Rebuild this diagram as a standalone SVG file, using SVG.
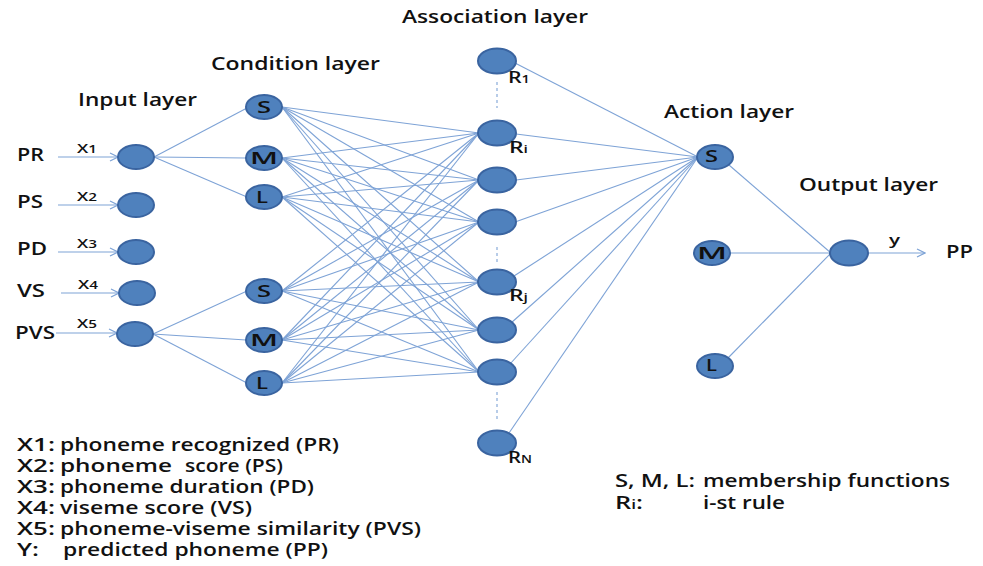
<svg xmlns="http://www.w3.org/2000/svg" width="983" height="566" viewBox="0 0 983 566">
<style>
.n{fill:#4f81bd;stroke:#3a64a0;stroke-width:2}
.c line{stroke:#7ea3d6;stroke-width:1.1}
.t{font-family:"Open Sans","Liberation Sans",sans-serif;fill:#111;font-weight:600}
.h{font-size:17.5px}
.lb{font-size:17.5px}
.nl{font-size:16px}
.d{stroke:#7ea3d6;stroke-width:1.3;stroke-dasharray:3,3}
</style>
<defs>
<marker id="a" markerWidth="10" markerHeight="10" refX="9" refY="5" orient="auto" markerUnits="userSpaceOnUse">
<path d="M1,1 L9,5 L1,9" fill="none" stroke="#7ea3d6" stroke-width="1.2"/>
</marker>
</defs>
<rect width="983" height="566" fill="#fff"/>
<g id="titles" class="t h">
<text x="402" y="23" textLength="186" lengthAdjust="spacingAndGlyphs">Association layer</text>
<text x="211" y="70" textLength="169" lengthAdjust="spacingAndGlyphs">Condition layer</text>
<text x="78" y="106" textLength="119" lengthAdjust="spacingAndGlyphs">Input layer</text>
<text x="664" y="118" textLength="130" lengthAdjust="spacingAndGlyphs">Action layer</text>
<text x="799" y="191" textLength="139" lengthAdjust="spacingAndGlyphs">Output layer</text>
</g>
<g id="connectors" class="c">
<line x1="58" y1="157" x2="118" y2="157" marker-end="url(#a)"/>
<line x1="58" y1="205" x2="118" y2="205" marker-end="url(#a)"/>
<line x1="58" y1="252" x2="118" y2="252" marker-end="url(#a)"/>
<line x1="61" y1="293" x2="119" y2="293" marker-end="url(#a)"/>
<line x1="56" y1="333" x2="117" y2="333" marker-end="url(#a)"/>
<line x1="154" y1="157" x2="247" y2="108"/>
<line x1="154" y1="157" x2="246" y2="158"/>
<line x1="154" y1="157" x2="247" y2="197"/>
<line x1="153" y1="334" x2="247" y2="291"/>
<line x1="153" y1="334" x2="246" y2="340"/>
<line x1="153" y1="334" x2="247" y2="383"/>
<line x1="282" y1="107" x2="479" y2="133"/><line x1="282" y1="107" x2="479" y2="180"/><line x1="282" y1="107" x2="479" y2="222"/><line x1="282" y1="107" x2="479" y2="282"/><line x1="282" y1="107" x2="479" y2="330"/><line x1="282" y1="107" x2="479" y2="372"/>
<line x1="282" y1="158" x2="479" y2="133"/><line x1="282" y1="158" x2="479" y2="180"/><line x1="282" y1="158" x2="479" y2="222"/><line x1="282" y1="158" x2="479" y2="282"/><line x1="282" y1="158" x2="479" y2="330"/><line x1="282" y1="158" x2="479" y2="372"/>
<line x1="282" y1="197" x2="479" y2="133"/><line x1="282" y1="197" x2="479" y2="180"/><line x1="282" y1="197" x2="479" y2="222"/><line x1="282" y1="197" x2="479" y2="282"/><line x1="282" y1="197" x2="479" y2="330"/><line x1="282" y1="197" x2="479" y2="372"/>
<line x1="282" y1="291" x2="479" y2="133"/><line x1="282" y1="291" x2="479" y2="180"/><line x1="282" y1="291" x2="479" y2="222"/><line x1="282" y1="291" x2="479" y2="282"/><line x1="282" y1="291" x2="479" y2="330"/><line x1="282" y1="291" x2="479" y2="372"/>
<line x1="282" y1="340" x2="479" y2="133"/><line x1="282" y1="340" x2="479" y2="180"/><line x1="282" y1="340" x2="479" y2="222"/><line x1="282" y1="340" x2="479" y2="282"/><line x1="282" y1="340" x2="479" y2="330"/><line x1="282" y1="340" x2="479" y2="372"/>
<line x1="282" y1="383" x2="479" y2="133"/><line x1="282" y1="383" x2="479" y2="180"/><line x1="282" y1="383" x2="479" y2="222"/><line x1="282" y1="383" x2="479" y2="282"/><line x1="282" y1="383" x2="479" y2="330"/><line x1="282" y1="383" x2="479" y2="372"/>
<line x1="515" y1="63" x2="698" y2="157"/>
<line x1="516" y1="134" x2="698" y2="157"/>
<line x1="516" y1="180" x2="698" y2="157"/>
<line x1="515" y1="222" x2="698" y2="157"/>
<line x1="514" y1="276" x2="698" y2="157"/>
<line x1="511" y1="323" x2="698" y2="157"/>
<line x1="510" y1="364" x2="698" y2="157"/>
<line x1="509" y1="433" x2="698" y2="157"/>
<line x1="729" y1="165" x2="831" y2="253"/>
<line x1="730" y1="253" x2="830" y2="253"/>
<line x1="728" y1="358" x2="831" y2="253"/>
<line x1="868" y1="253" x2="925" y2="253" marker-end="url(#a)"/>
<line class="d" x1="497" y1="82" x2="497" y2="108"/>
<line class="d" x1="497" y1="247" x2="497" y2="265"/>
<line class="d" x1="497" y1="392" x2="497" y2="422"/>
</g>
<g id="input-labels" class="t lb">
<text x="17" y="161" textLength="27" lengthAdjust="spacingAndGlyphs">PR</text>
<text x="17" y="208" textLength="26" lengthAdjust="spacingAndGlyphs">PS</text>
<text x="17" y="255" textLength="30" lengthAdjust="spacingAndGlyphs">PD</text>
<text x="17" y="297" textLength="28" lengthAdjust="spacingAndGlyphs">VS</text>
<text x="15" y="339" textLength="40" lengthAdjust="spacingAndGlyphs">PVS</text>
<text x="77" y="153" font-size="13" textLength="20" lengthAdjust="spacingAndGlyphs">X<tspan font-size="11">1</tspan></text>
<text x="77" y="201" font-size="13" textLength="20" lengthAdjust="spacingAndGlyphs">X<tspan font-size="11">2</tspan></text>
<text x="77" y="248" font-size="13" textLength="20" lengthAdjust="spacingAndGlyphs">X<tspan font-size="11">3</tspan></text>
<text x="78" y="289" font-size="13" textLength="20" lengthAdjust="spacingAndGlyphs">X<tspan font-size="11">4</tspan></text>
<text x="77" y="328" font-size="13" textLength="20" lengthAdjust="spacingAndGlyphs">X<tspan font-size="11">5</tspan></text>
</g>
<g id="in1"><ellipse class="n" cx="136" cy="157" rx="18" ry="12"/></g>
<g id="in2"><ellipse class="n" cx="136" cy="205" rx="18" ry="12"/></g>
<g id="in3"><ellipse class="n" cx="136" cy="252" rx="18" ry="12"/></g>
<g id="in4"><ellipse class="n" cx="137" cy="293" rx="18" ry="12"/></g>
<g id="in5"><ellipse class="n" cx="135" cy="334" rx="18" ry="12"/></g>
<g id="c1"><ellipse class="n" cx="264" cy="107" rx="18" ry="12"/><text class="t nl" x="257" y="113" textLength="14" lengthAdjust="spacingAndGlyphs">S</text></g>
<g id="c2"><ellipse class="n" cx="264" cy="158" rx="18" ry="12"/><text class="t nl" x="250" y="164" textLength="28" lengthAdjust="spacingAndGlyphs">M</text></g>
<g id="c3"><ellipse class="n" cx="264" cy="197" rx="18" ry="12"/><text class="t nl" x="256" y="203" textLength="12" lengthAdjust="spacingAndGlyphs">L</text></g>
<g id="c4"><ellipse class="n" cx="264" cy="291" rx="18" ry="12"/><text class="t nl" x="257" y="297" textLength="14" lengthAdjust="spacingAndGlyphs">S</text></g>
<g id="c5"><ellipse class="n" cx="264" cy="340" rx="18" ry="12"/><text class="t nl" x="250" y="346" textLength="28" lengthAdjust="spacingAndGlyphs">M</text></g>
<g id="c6"><ellipse class="n" cx="264" cy="383" rx="18" ry="12"/><text class="t nl" x="256" y="389" textLength="12" lengthAdjust="spacingAndGlyphs">L</text></g>
<g id="r1"><ellipse class="n" cx="497" cy="61" rx="19" ry="12.5"/><text class="t" x="508" y="83" font-size="16" textLength="22" lengthAdjust="spacingAndGlyphs">R<tspan font-size="11">1</tspan></text></g>
<g id="ri"><ellipse class="n" cx="497" cy="133" rx="19" ry="12.5"/><text class="t" x="509" y="153" font-size="16" textLength="19" lengthAdjust="spacingAndGlyphs">R<tspan font-size="11">i</tspan></text></g>
<g id="r3"><ellipse class="n" cx="497" cy="180" rx="19" ry="12.5"/></g>
<g id="r4"><ellipse class="n" cx="497" cy="222" rx="19" ry="12.5"/></g>
<g id="rj"><ellipse class="n" cx="497" cy="282" rx="19" ry="12.5"/><text class="t" x="509" y="301" font-size="16" textLength="19" lengthAdjust="spacingAndGlyphs">R<tspan font-size="11">j</tspan></text></g>
<g id="r6"><ellipse class="n" cx="497" cy="330" rx="19" ry="12.5"/></g>
<g id="r7"><ellipse class="n" cx="497" cy="372" rx="19" ry="12.5"/></g>
<g id="rn"><ellipse class="n" cx="497" cy="443" rx="19" ry="12.5"/><text class="t" x="508" y="463" font-size="16" textLength="24" lengthAdjust="spacingAndGlyphs">R<tspan font-size="11">N</tspan></text></g>
<g id="a1"><ellipse class="n" cx="715" cy="157" rx="18" ry="12"/><text class="t nl" x="705" y="162" textLength="13" lengthAdjust="spacingAndGlyphs">S</text></g>
<g id="a2"><ellipse class="n" cx="712" cy="253" rx="18" ry="12"/><text class="t nl" x="697" y="259" textLength="30" lengthAdjust="spacingAndGlyphs">M</text></g>
<g id="a3"><ellipse class="n" cx="715" cy="366" rx="18" ry="12"/><text class="t nl" x="706" y="371" textLength="11" lengthAdjust="spacingAndGlyphs">L</text></g>
<g id="out"><ellipse class="n" cx="849" cy="253" rx="19" ry="12.5"/></g>
<g id="out-labels" class="t">
<text x="889" y="245" font-size="15" textLength="11" lengthAdjust="spacingAndGlyphs">y</text>
<text x="946" y="258" font-size="17.5" textLength="27" lengthAdjust="spacingAndGlyphs">PP</text>
</g>
<g id="legend" class="t" font-size="17.5">
<text x="17" y="451" textLength="38" lengthAdjust="spacingAndGlyphs">X1:</text>
<text x="60" y="451" textLength="279" lengthAdjust="spacingAndGlyphs">phoneme recognized (PR)</text>
<text x="17" y="472" textLength="38" lengthAdjust="spacingAndGlyphs">X2:</text>
<text x="60" y="472" textLength="112" lengthAdjust="spacingAndGlyphs">phoneme</text>
<text x="185" y="472" textLength="98" lengthAdjust="spacingAndGlyphs">score (PS)</text>
<text x="17" y="493" textLength="38" lengthAdjust="spacingAndGlyphs">X3:</text>
<text x="60" y="493" textLength="254" lengthAdjust="spacingAndGlyphs">phoneme duration (PD)</text>
<text x="17" y="514" textLength="38" lengthAdjust="spacingAndGlyphs">X4:</text>
<text x="60" y="514" textLength="192" lengthAdjust="spacingAndGlyphs">viseme score (VS)</text>
<text x="17" y="535" textLength="38" lengthAdjust="spacingAndGlyphs">X5:</text>
<text x="60" y="535" textLength="361" lengthAdjust="spacingAndGlyphs">phoneme-viseme similarity (PVS)</text>
<text x="17" y="556" textLength="22" lengthAdjust="spacingAndGlyphs">Y:</text>
<text x="63" y="556" textLength="265" lengthAdjust="spacingAndGlyphs">predicted phoneme (PP)</text>
<text x="615" y="487" textLength="80" lengthAdjust="spacingAndGlyphs">S, M, L:</text>
<text x="703" y="487" textLength="247" lengthAdjust="spacingAndGlyphs">membership functions</text>
<text x="615" y="509" textLength="28" lengthAdjust="spacingAndGlyphs">R<tspan font-size="12">i</tspan>:</text>
<text x="703" y="509" textLength="82" lengthAdjust="spacingAndGlyphs">i-st rule</text>
</g>
</svg>
